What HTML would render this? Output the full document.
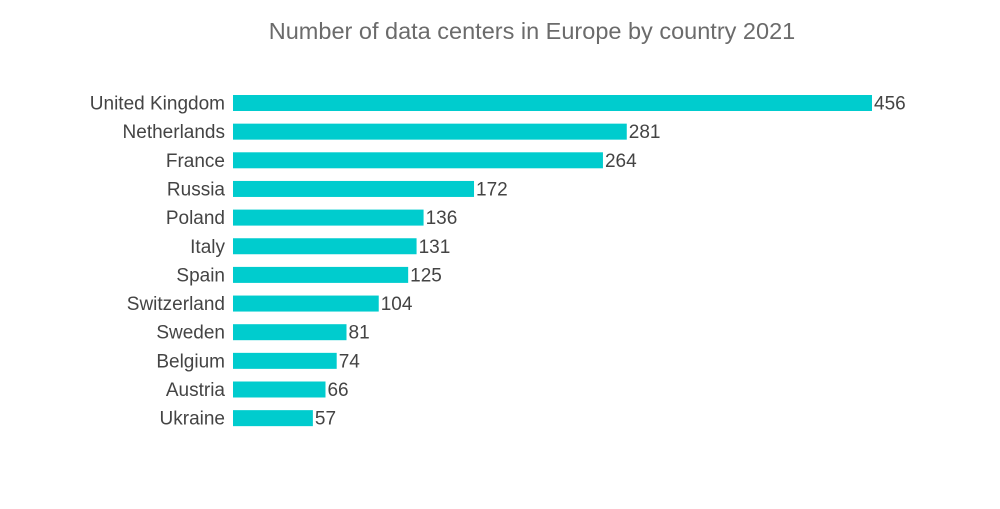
<!DOCTYPE html>
<html><head><meta charset="utf-8"><style>
body{margin:0;background:#fff;font-family:"Liberation Sans",sans-serif}
</style></head><body>
<svg width="1000" height="504" xmlns="http://www.w3.org/2000/svg">
<rect width="1000" height="504" fill="#fff"/>
<text x="532" y="39" text-anchor="middle" font-size="23.5" fill="#6b6b6b">Number of data centers in Europe by country 2021</text>
<g id="bars"></g>
</svg>
<script>
const categories=["United Kingdom","Netherlands","France","Russia","Poland","Italy","Spain","Switzerland","Sweden","Belgium","Austria","Ukraine"];
const values=[456,281,264,172,136,131,125,104,81,74,66,57];
const x0=233, scale=(872-233)/456, y0=103, step=28.65, bh=16;
const xs=v=>x0+v*scale, ys=i=>y0+i*step;
const g=document.getElementById('bars');
const NS="http://www.w3.org/2000/svg";
categories.forEach((c,i)=>{
  const r=document.createElementNS(NS,'rect');
  r.setAttribute('x',x0);r.setAttribute('y',ys(i)-bh/2);
  r.setAttribute('width',xs(values[i])-x0);r.setAttribute('height',bh);
  r.setAttribute('fill','#00ccce');
  
  
  g.appendChild(r);
  const l=document.createElementNS(NS,'text');
  l.setAttribute('x',225);l.setAttribute('y',ys(i)+6.5);
  l.setAttribute('text-anchor','end');l.setAttribute('font-size','19');l.setAttribute('fill','#444');
  l.textContent=c;
  
  
  g.appendChild(l);
  const v=document.createElementNS(NS,'text');
  v.setAttribute('x',xs(values[i])+2);v.setAttribute('y',ys(i)+6.5);
  v.setAttribute('font-size','19');v.setAttribute('fill','#444');
  v.textContent=values[i];
  
  
  g.appendChild(v);
});
</script>
</body></html>
